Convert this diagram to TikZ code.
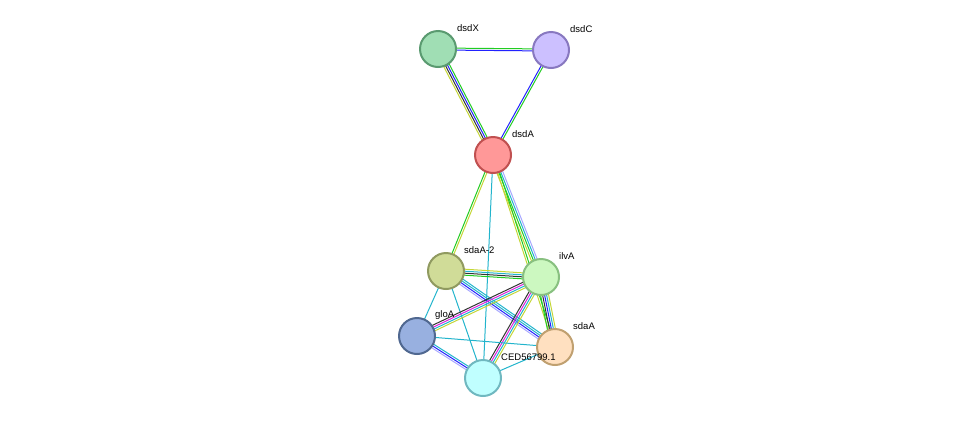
\documentclass[tikz,border=0pt]{standalone}
\usepackage{fontspec}
\setmainfont{Liberation Sans}
\usetikzlibrary{calc, backgrounds}
\definecolor{cNeigh}{HTML}{22CC22}
\definecolor{cCooc}{HTML}{2222FF}
\definecolor{cCoex}{HTML}{333333}
\definecolor{cText}{HTML}{C4D636}
\definecolor{cData}{HTML}{22B4CC}
\definecolor{cExp}{HTML}{DD22DD}
\definecolor{cHomo}{HTML}{A8A8FF}
\tikzstyle{protein} = [circle, minimum size=36pt, inner sep=0pt, line width=2pt]
\tikzstyle{lbl} = [anchor=west, font=\fontsize{9.5}{10}\selectfont, inner sep=0pt]
% #1,#2: nodes, #3: number of lines, #4: colours
\newcommand{\link}[4]{%
  \foreach \c [count=\i] in {#4} {
    \pgfmathsetmacro{\o}{(\i-(#3+1)/2)*2}
    \draw[\c, line width=1pt] ($(#1)!\o pt!90:(#2)$) -- ($(#2)!\o pt!-90:(#1)$);
  }}
\begin{document}
\begin{tikzpicture}[x=1pt, y=-1pt]
\useasboundingbox (0,0) rectangle (976,424);

% proteins
\node (dsdX) [protein, draw={rgb,255:red,90;green,154;blue,112}, fill={rgb,255:red,160;green,222;blue,180}] at (438,49) {};
\node (dsdC) [protein, draw={rgb,255:red,136;green,120;blue,192}, fill={rgb,255:red,204;green,192;blue,255}] at (551,50) {};
\node (dsdA) [protein, draw={rgb,255:red,192;green,80;blue,80}, fill={rgb,255:red,255;green,152;blue,152}] at (493,155) {};
\node (sdaA2) [protein, draw={rgb,255:red,144;green,154;blue,96}, fill={rgb,255:red,208;green,220;blue,152}] at (446,271) {};
\node (ilvA) [protein, draw={rgb,255:red,136;green,192;blue,128}, fill={rgb,255:red,204;green,248;blue,192}] at (541,277) {};
\node (gloA) [protein, draw={rgb,255:red,80;green,104;blue,144}, fill={rgb,255:red,152;green,176;blue,224}] at (417,336) {};
\node (sdaA) [protein, draw={rgb,255:red,192;green,160;blue,112}, fill={rgb,255:red,255;green,224;blue,192}] at (555,347) {};
\node (ced) [protein, draw={rgb,255:red,112;green,184;blue,192}, fill={rgb,255:red,192;green,255;blue,255}] at (483,378) {};

% labels
\node [lbl] at ($(dsdX)+(19,-21)$) {dsdX};
\node [lbl] at ($(dsdC)+(19,-21)$) {dsdC};
\node [lbl] at ($(dsdA)+(19,-21)$) {dsdA};
\node [lbl] at ($(sdaA2)+(18,-21)$) {sdaA-2};
\node [lbl] at ($(ilvA)+(18,-21)$) {ilvA};
\node [lbl] at ($(gloA)+(18,-21)$) {gloA};
\node [lbl] at ($(sdaA)+(18,-21)$) {sdaA};
\node [lbl] at ($(ced)+(18,-21)$) {CED56799.1};

% links
\begin{scope}[on background layer]
\link{dsdX}{dsdC}{2}{cCooc, cNeigh}
\link{dsdX}{dsdA}{4}{cText, cCoex, cCooc, cNeigh}
\link{dsdC}{dsdA}{2}{cCooc, cNeigh}
\link{dsdA}{sdaA2}{2}{cNeigh, cText}
\link{dsdA}{ilvA}{4}{cText, cNeigh, cData, cHomo}
\link{dsdA}{sdaA}{2}{cText, cNeigh}
\link{dsdA}{ced}{1}{cData}
\link{sdaA2}{ilvA}{4}{cNeigh, cCoex, cData, cText}
\link{sdaA2}{sdaA}{4}{cHomo, cCooc, cData, cData}
\link{sdaA2}{gloA}{1}{cData}
\link{sdaA2}{ced}{1}{cData}
\link{ilvA}{gloA}{4}{cCoex, cExp, cData, cText}
\link{ilvA}{sdaA}{5}{cNeigh, cCoex, cCooc, cData, cText}
\link{ilvA}{ced}{4}{cCoex, cExp, cData, cText}
\link{gloA}{sdaA}{1}{cData}
\link{gloA}{ced}{3}{cHomo, cCooc, cData}
\link{ced}{sdaA}{1}{cData}
\end{scope}
\end{tikzpicture}
\end{document}
